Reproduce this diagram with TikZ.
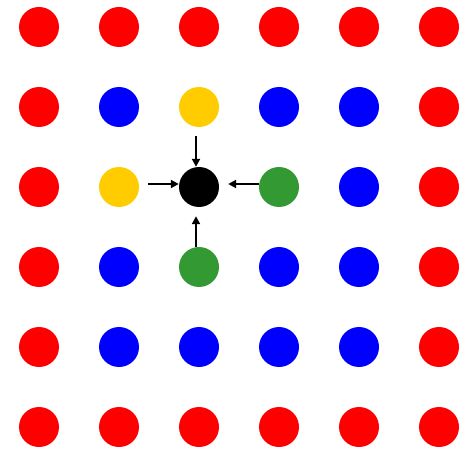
\documentclass[tikz,border=0pt]{standalone}
\usetikzlibrary{arrows.meta}
\definecolor{R}{HTML}{FF0000}
\definecolor{B}{HTML}{0000FF}
\definecolor{Y}{HTML}{FFCC00}
\definecolor{G}{HTML}{339933}
\definecolor{K}{HTML}{000000}
\begin{document}
\begin{tikzpicture}[x=1pt,y=-1pt,
  dot/.style={circle,minimum size=40pt,inner sep=0pt,draw=none},
  arr/.style={line width=2.6pt,-{Triangle[length=8pt,width=8pt]}}]
\useasboundingbox (0,0) rectangle (471,449);
\foreach \r/\row in {0/{R,R,R,R,R,R},1/{R,B,Y,B,B,R},2/{R,Y,K,G,B,R},3/{R,B,G,B,B,R},4/{R,B,B,B,B,R},5/{R,R,R,R,R,R}}{
  \foreach \c [count=\i from 0] in \row {
    \node[dot,fill=\c] (n\r\i) at (39+80*\i,27+80*\r) {};
  }
}
\draw[arr,shorten <=9pt] ([xshift=-3pt]n12.south) -- ([xshift=-3pt]n22.north);
\draw[arr,shorten <=9pt] ([yshift=3pt]n21.east) -- ([yshift=3pt]n22.west);
\draw[arr,shorten >=9pt] ([yshift=3pt]n23.west) -- ([yshift=3pt]n22.east);
\draw[arr,shorten >=9pt] ([xshift=-3pt]n32.north) -- ([xshift=-3pt]n22.south);
\end{tikzpicture}
\end{document}
